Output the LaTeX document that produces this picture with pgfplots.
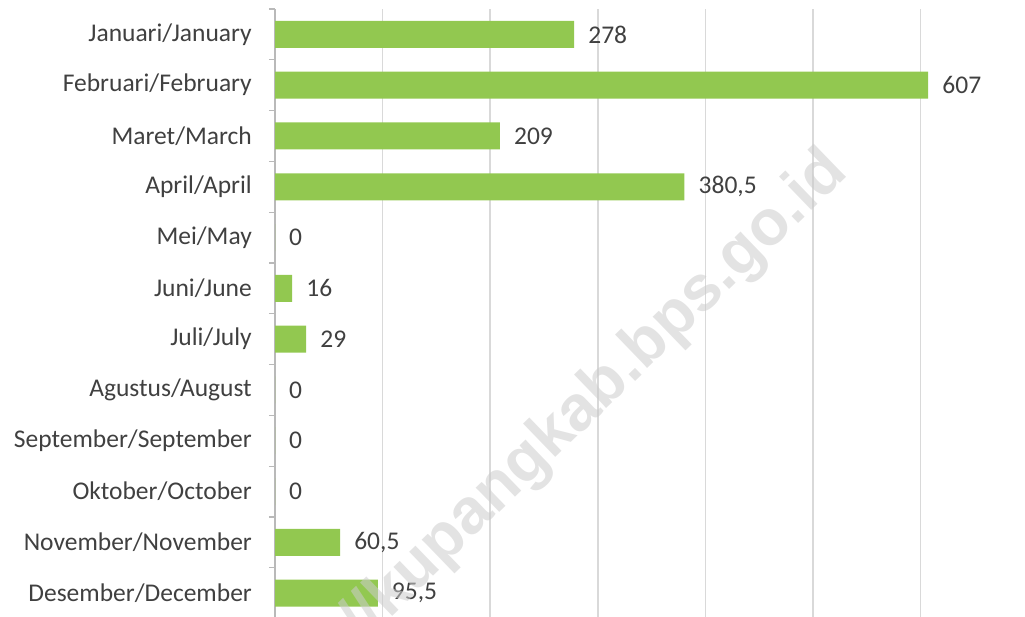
\documentclass[border=0pt]{standalone}
\usepackage{pgfplots}
\pgfplotsset{compat=1.18}
\usepackage{fontspec}
\setmainfont{Carlito}
\newfontfamily\wmfont{Liberation Sans}
\definecolor{bargreen}{RGB}{146,200,80}
\definecolor{txt}{RGB}{64,64,64}
\definecolor{gridc}{RGB}{217,217,217}
\definecolor{axc}{RGB}{185,185,185}
\begin{document}
\begin{tikzpicture}
\path[use as bounding box] (0,0) rectangle (1025pt,-617pt);
\begin{axis}[
  at={(275pt,-9pt)}, anchor=north west,
  scale only axis, width=749pt, height=609.5pt,
  xbar, bar width=27pt,
  xmin=0, xmax=696,
  ymin=-0.5, ymax=11.5, y dir=reverse,
  axis y line*=left, axis x line*=bottom,
  x axis line style={draw=none},
  y axis line style={axc, line width=1.5pt, -},
  xtick={100,200,...,600}, xticklabels={},
  major x tick style={draw=none},
  xmajorgrids, major x grid style={gridc, line width=1.6pt},
  ytick={0,...,11},
  yticklabels={Januari/January,Februari/February,Maret/March,April/April,Mei/May,Juni/June,Juli/July,Agustus/August,September/September,Oktober/October,November/November,Desember/December},
  major tick length=0pt,
  minor ytick={-0.5,0.5,...,11.5},
  minor tick length=6pt, tick align=outside,
  minor y tick style={axc, line width=1.2pt},
  yticklabel style={font=\fontsize{25.5}{30}\selectfont, text=txt, inner sep=0pt, xshift=-23pt},
  nodes near coords,
  nodes near coords style={anchor=west, inner sep=0pt, xshift=14pt, font=\fontsize{25.5}{30}\selectfont, text=txt},
  /pgf/number format/use comma,
  /pgf/number format/1000 sep={},
  /pgf/number format/assume math mode=true,
]
\addplot[fill=bargreen, draw=none] coordinates {
  (278,0) (607,1) (209,2) (380.5,3) (0,4) (16,5) (29,6) (0,7) (0,8) (0,9) (60.5,10) (95.5,11)
};
\end{axis}
\node[font=\wmfont\bfseries\fontsize{64}{70}\selectfont, text=black!20, opacity=0.55, rotate=44, anchor=base east] at (852pt,-172pt) {https://kupangkab.bps.go.id};
\end{tikzpicture}
\end{document}
